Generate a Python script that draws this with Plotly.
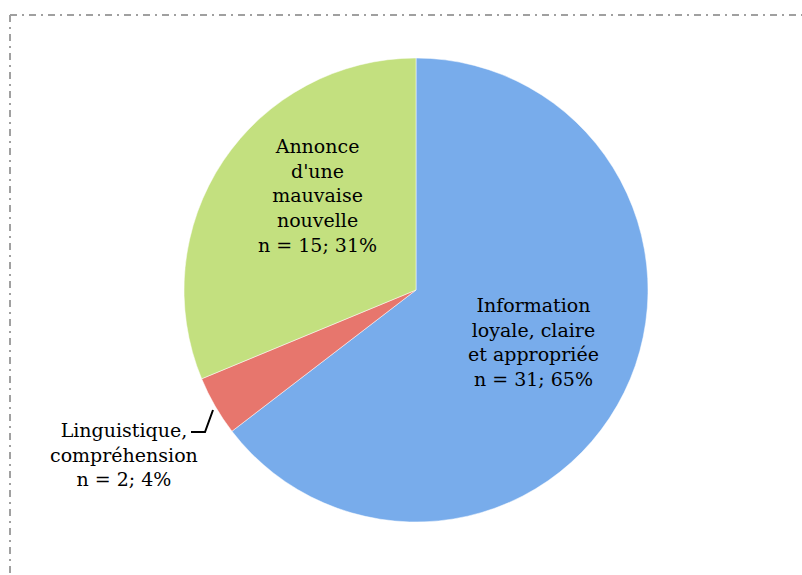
import plotly.graph_objects as go

categories = ["Information<br>loyale, claire<br>et appropriée",
              "Linguistique,<br>compréhension",
              "Annonce<br>d'une<br>mauvaise<br>nouvelle"]
counts = [31, 2, 15]
percents = [65, 4, 31]
colors = ["#78aceb", "#e7766d", "#c3e07f"]

W, H = 802, 575
cx, cy, r = 416, 290, 232

fig = go.Figure(go.Pie(
    labels=categories,
    values=counts,
    sort=False,
    direction="clockwise",
    rotation=0,
    marker=dict(colors=colors, line=dict(color="white", width=0.5)),
    textinfo="none",
    hoverinfo="label+value+percent",
    showlegend=False,
    domain=dict(x=[(cx - r) / W, (cx + r) / W], y=[1 - (cy + r) / H, 1 - (cy - r) / H]),
))

font = dict(family="DejaVu Serif", size=19, color="black")
label_pos = [(533, 342), (124, 454), (317, 195)]
annotations = []
for (x, y), cat, n, p in zip(label_pos, categories, counts, percents):
    annotations.append(dict(
        x=x / W, y=1 - y / H, xref="paper", yref="paper",
        text=f"{cat}<br>n = {n}; {p}%", showarrow=False,
        font=font, align="center", xanchor="center", yanchor="middle",
    ))

dash = "7px,5px,2px,5px"
shapes = [
    dict(type="line", xref="paper", yref="paper", x0=10 / W, x1=1, y0=1 - 15 / H, y1=1 - 15 / H,
         line=dict(color="#a0a0a0", width=2, dash=dash)),
    dict(type="line", xref="paper", yref="paper", x0=10 / W, x1=10 / W, y0=1 - 15 / H, y1=0,
         line=dict(color="#a0a0a0", width=2, dash=dash)),
    dict(type="path", xref="paper", yref="paper",
         path=f"M {191/W} {1-432/H} L {205/W} {1-432/H} L {213/W} {1-410/H}",
         line=dict(color="black", width=2)),
]

fig.update_layout(
    width=W, height=H,
    margin=dict(l=0, r=0, t=0, b=0),
    paper_bgcolor="white",
    annotations=annotations,
    shapes=shapes,
)

fig.write_html("out.html", config={"displayModeBar": False},
               post_script="document.body.style.margin='0';document.body.style.overflow='hidden';")
